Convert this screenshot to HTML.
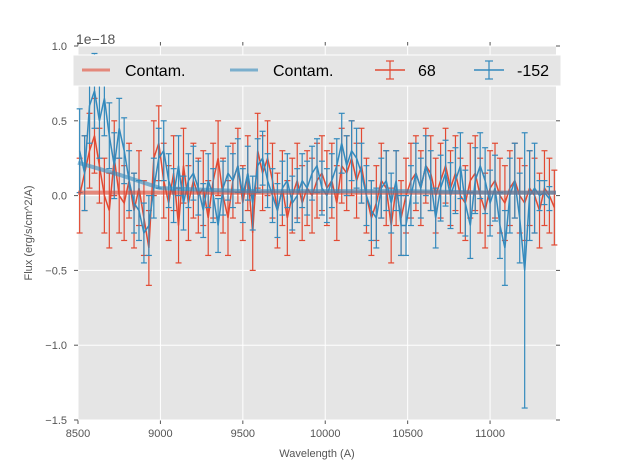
<!DOCTYPE html>
<html><head><meta charset="utf-8"><style>
body{margin:0;background:#fff;}
svg{display:block;font-family:"Liberation Sans","DejaVu Sans",sans-serif;}
</style></head><body>
<svg id="chart" width="617" height="467" viewBox="0 0 617 467"></svg>
<script>
const xTicks=[8500,9000,9500,10000,10500,11000];
const yTicks=[-1.5,-1.0,-0.5,0.0,0.5,1.0];
const yTickLabels=["\u22121.5","\u22121.0","\u22120.5","0.0","0.5","1.0"];
const wlStart=8510, wlStep=30;
const blueVals=[0.3,0.15,0.6,0.7,0.5,0.65,0.4,0.2,0.45,0.3,0.1,-0.05,-0.1,-0.25,-0.2,0.05,0.25,0.3,0.1,0.0,0.2,-0.05,0.1,0.15,0.05,-0.1,0.1,0.0,-0.2,0.05,0.15,0.1,0.2,0.0,0.15,-0.05,0.2,0.25,0.1,0.0,-0.1,0.05,0.1,-0.05,0.0,0.1,0.05,0.15,0.2,0.05,0.0,0.1,0.2,0.35,0.2,0.3,0.25,0.15,0.0,-0.1,-0.15,0.05,0.1,-0.05,0.1,-0.2,-0.2,0.0,0.15,0.05,0.2,0.1,-0.15,0.05,0.15,0.0,0.1,0.2,-0.05,-0.2,0.1,0.2,0.1,-0.05,0.05,-0.2,-0.35,0.0,0.1,-0.15,-0.5,0.0,0.05,0.0,0.02,-0.02];
const blueErr=[0.28,0.25,0.25,0.25,0.25,0.25,0.22,0.22,0.2,0.22,0.2,0.2,0.2,0.2,0.2,0.2,0.2,0.2,0.18,0.18,0.2,0.18,0.18,0.18,0.18,0.18,0.18,0.18,0.18,0.18,0.18,0.18,0.18,0.18,0.18,0.18,0.18,0.18,0.18,0.18,0.18,0.18,0.18,0.18,0.18,0.18,0.18,0.18,0.18,0.18,0.18,0.18,0.18,0.2,0.2,0.2,0.2,0.2,0.2,0.2,0.2,0.2,0.2,0.2,0.2,0.2,0.2,0.2,0.2,0.2,0.2,0.2,0.2,0.22,0.22,0.22,0.22,0.22,0.22,0.22,0.22,0.22,0.22,0.22,0.22,0.22,0.25,0.25,0.25,0.3,0.92,0.3,0.3,0.1,0.08,0.08,0.08];
const redVals=[0.0,0.15,0.3,0.4,0.2,0.0,-0.1,0.25,0.0,-0.05,0.1,-0.1,0.05,-0.15,-0.35,0.25,0.35,0.1,-0.05,0.15,-0.2,0.2,-0.05,0.1,0.0,0.05,-0.15,0.1,0.25,0.0,-0.15,0.1,0.2,-0.05,0.15,-0.25,0.3,0.15,0.25,0.1,-0.1,0.05,-0.15,0.0,0.1,-0.05,0.05,0.0,0.1,0.15,0.05,0.1,-0.05,0.2,0.15,0.25,0.1,0.2,0.0,-0.15,-0.05,0.1,0.05,-0.2,0.05,-0.15,0.0,0.1,0.15,0.05,0.2,0.15,0.0,0.1,0.2,0.05,0.15,0.0,-0.05,0.1,0.15,0.0,-0.1,0.05,0.1,0.0,-0.05,0.05,0.1,0.0,-0.05,0.05,0.0,-0.1,0.05,0.0,-0.08];
const redErr=0.25;
const contamRed=[0.02,0.02,0.02,0.02,0.02,0.02,0.02];
const contamBlue=[0.22,0.14,0.05,0.03,0.03,0.02,0.02];
const contamWl=[8500,8750,9000,9500,10500,11000,11400];

const svg=document.getElementById('chart');
const NS='http://www.w3.org/2000/svg';
const L=78,R=556,T=46,B=420,X0=8500,X1=11400,Y0=-1.5,Y1=1.0;
const sx=v=>L+(v-X0)/(X1-X0)*(R-L);
const sy=v=>B-(v-Y0)/(Y1-Y0)*(B-T);
function el(tag,attrs,parent){const e=document.createElementNS(NS,tag);for(const k in attrs)e.setAttribute(k,attrs[k]);(parent||svg).appendChild(e);return e;}

const bg=el('rect',{x:L,y:T,width:R-L,height:B-T,fill:'#e5e5e5'});


xTicks.forEach(t=>{
  const g=el('line',{x1:sx(t),x2:sx(t),y1:T,y2:B,stroke:'#fff','stroke-width':1});
  
  
  el('line',{x1:sx(t),x2:sx(t),y1:B,y2:B+4,stroke:'#555'});
  el('line',{x1:sx(t),x2:sx(t),y1:T,y2:T-4,stroke:'#555'});
  const tx=el('text',{x:sx(t),y:B+17,'text-anchor':'middle','font-size':11,fill:'#555'});
  tx.textContent=t;
  
  
});
yTicks.forEach((t,i)=>{
  const g=el('line',{x1:L,x2:R,y1:sy(t),y2:sy(t),stroke:'#fff','stroke-width':1});
  
  
  el('line',{x1:L,x2:L-4,y1:sy(t),y2:sy(t),stroke:'#555'});
  el('line',{x1:R,x2:R+4,y1:sy(t),y2:sy(t),stroke:'#555'});
  const tx=el('text',{x:L-11,y:sy(t)+4,'text-anchor':'end','font-size':11,fill:'#555'});
  tx.textContent=yTickLabels[i];
  
  
});

function series(vals,errs,color,name){
  const g=el('g',{});
  
  
  let d='';
  vals.forEach((v,i)=>{
    const w=wlStart+i*wlStep; if(w>X1) return;
    const e=Array.isArray(errs)?errs[i]:errs;
    const x=sx(w);
    el('line',{x1:x,x2:x,y1:sy(v-e),y2:sy(v+e),stroke:color,'stroke-width':1.2},g);
    el('line',{x1:x-3,x2:x+3,y1:sy(v-e),y2:sy(v-e),stroke:color,'stroke-width':1.2},g);
    el('line',{x1:x-3,x2:x+3,y1:sy(v+e),y2:sy(v+e),stroke:color,'stroke-width':1.2},g);
    d+=(i?'L':'M')+x.toFixed(1)+','+sy(v).toFixed(1);
  });
  el('path',{d:d,fill:'none',stroke:color,'stroke-width':1.5},g);
}
series(redVals,redErr,'#e24a33','red-series-68');
series(blueVals,blueErr,'#348abd','blue-series-152');
function contam(vals,color,name){
  let d='';vals.forEach((v,i)=>{d+=(i?'L':'M')+sx(contamWl[i]).toFixed(1)+','+sy(v).toFixed(1);});
  const p=el('path',{d:d,fill:'none',stroke:color,'stroke-width':4,'stroke-opacity':0.6});
  
  
}
contam(contamRed,'#e24a33','contam-red-line');
contam(contamBlue,'#348abd','contam-blue-line');

const lg=el('g',{});


el('rect',{x:73,y:55,width:488,height:31,fill:'#e5e5e5',stroke:'#fff','stroke-width':1},lg);
const ent=[[82,125,'#e24a33','Contam.',0],[230,273,'#348abd','Contam.',0],[375,418,'#e24a33','68',1],[474,517,'#348abd','-152',1]];
ent.forEach(e=>{
  const eg=el('g',{},lg);
  
  
  const y=70;
  if(!e[4]){el('line',{x1:e[0],x2:e[0]+28,y1:y,y2:y,stroke:e[2],'stroke-width':3,'stroke-opacity':0.6},eg);}
  else{
    el('line',{x1:e[0],x2:e[0]+30,y1:y,y2:y,stroke:e[2],'stroke-width':1.5},eg);
    el('line',{x1:e[0]+15,x2:e[0]+15,y1:y-9,y2:y+9,stroke:e[2],'stroke-width':1.2},eg);
    el('line',{x1:e[0]+11,x2:e[0]+19,y1:y-9,y2:y-9,stroke:e[2],'stroke-width':1.2},eg);
    el('line',{x1:e[0]+11,x2:e[0]+19,y1:y+9,y2:y+9,stroke:e[2],'stroke-width':1.2},eg);
  }
  const t=el('text',{x:e[1],y:y+6,'font-size':16,fill:'#000'},eg);t.textContent=e[3];
});

const off=el('text',{x:76,y:44,'font-size':14,fill:'#555'});off.textContent='1e\u221218';


const xt=el('text',{x:317,y:457,'text-anchor':'middle','font-size':11,fill:'#555'});xt.textContent='Wavelength (A)';


const yt=el('text',{x:32,y:233,'text-anchor':'middle','font-size':11,fill:'#555',transform:'rotate(-90 32 233)'});yt.textContent='Flux (erg/s/cm^2/A)';


</script>
</body></html>
